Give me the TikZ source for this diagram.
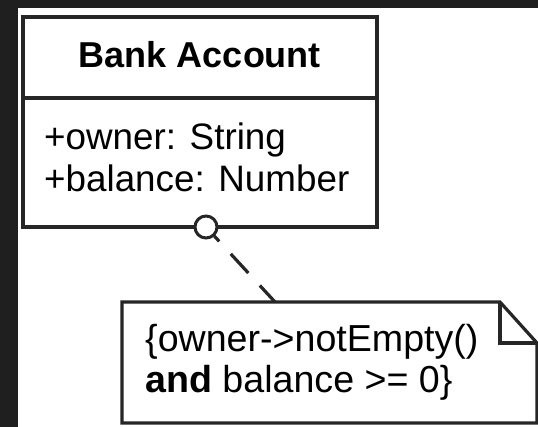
\documentclass[tikz,border=0pt]{standalone}
\usepackage{fontspec}
\setmainfont{Liberation Sans}
\begin{document}
\begin{tikzpicture}[x=1pt, y=-1pt,
    umlline/.style={line width=3.2pt, draw=black!85},
    umltext/.style={font=\fontsize{36pt}{42pt}\selectfont, inner sep=0pt, anchor=base west}]
  \useasboundingbox (0,0) rectangle (538,427);
  \fill[black!88] (0,0) rectangle (538,427);
  \fill[white] (18,8) rectangle (538,427);
  % class box
  \draw[umlline] (23,17) rectangle (377,227);
  \draw[umlline] (23,98) -- (377,98);
  \node[umltext, anchor=base, font=\fontsize{36pt}{42pt}\selectfont\bfseries] (title) at (200,68) {Bank Account};
  \node[umltext, font=\fontsize{36.8pt}{42pt}\selectfont] (owner) at (44,150) {+owner: String};
  \node[umltext, font=\fontsize{36.8pt}{42pt}\selectfont] (balance) at (44,192) {+balance: Number};
  % note
  \draw[umlline, fill=white] (122,302) -- (500,302) -- (537,343) -- (537,423) -- (122,423) -- cycle;
  \draw[umlline] (500,302) -- (500,343) -- (537,343);
  \coordinate (notetop) at (275,302);
  \node[umltext, font=\fontsize{37.6pt}{42pt}\selectfont] (cons1) at (145,352) {\{owner->notEmpty()};
  \node[umltext, font=\fontsize{37.6pt}{42pt}\selectfont] (cons2) at (145,392) {\textbf{and} balance >= 0\}};
  % anchor
  \node[circle, umlline, line width=3pt, fill=white, minimum size=22pt, inner sep=0pt] (pin) at (206,227) {};
  \draw[umlline, dash pattern=on 26pt off 17pt, dash phase=19pt] (pin) -- (notetop);
\end{tikzpicture}
\end{document}
